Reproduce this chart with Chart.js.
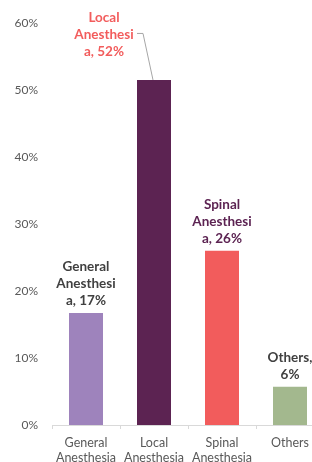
<!DOCTYPE html>
<html>
<head>
<meta charset="utf-8">
<script src="https://cdn.jsdelivr.net/npm/chart.js@4/dist/chart.umd.min.js"></script>
<style>
html,body{margin:0;padding:0;background:#fff;overflow:hidden;width:312px;height:462px;}
#wrap{position:absolute;left:0;top:0;width:324px;height:462px;}
</style>
</head>
<body>
<div id="wrap"><canvas id="c" width="324" height="462"></canvas></div>
<script>
const categories = [["General","Anesthesia"],["Local","Anesthesia"],["Spinal","Anesthesia"],["Others"]];
const values = [16.7, 51.5, 26.0, 5.7];
const labelNames = [["General","Anesthesi","a"],["Local","Anesthesi","a"],["Spinal","Anesthesi","a"],["Others"]];
const barColors = ["#9E83BC","#5C2352","#F25C5C","#A3B88E"];
const labelColors = ["#404040","#F25C5C","#5C2352","#404040"];
const yTicks = [0,10,20,30,40,50,60];

const FONT = "Lato, 'Open Sans', sans-serif";

function labelLines(i){
  const n = labelNames[i];
  const pct = Math.round(values[i]) + "%";
  if (n.length === 1) return [n[0] + ",", pct];
  const lines = n.slice(0, n.length - 1);
  lines.push(n[n.length - 1] + ", " + pct);
  return lines;
}

const labelPlugin = {
  id: 'barLabels',
  afterDatasetsDraw(chart){
    const ctx = chart.ctx;
    const meta = chart.getDatasetMeta(0);
    ctx.save();
    ctx.font = "bold 13.5px " + FONT;
    ctx.textAlign = "center";
    ctx.textBaseline = "middle";
    const lh = 17;
    meta.data.forEach((bar, i) => {
      const lines = labelLines(i);
      let cx = bar.x, lastY = bar.y - 12.5;
      if (i === 1) {
        cx = bar.x - 50;
        lastY = bar.y - 28;
        ctx.strokeStyle = "#A6A6A6";
        ctx.lineWidth = 1;
        ctx.beginPath();
        ctx.moveTo(bar.x - 17, bar.y - 46.5);
        ctx.lineTo(bar.x - 11, bar.y - 46.5);
        ctx.lineTo(bar.x - 1, bar.y);
        ctx.stroke();
      }
      ctx.fillStyle = labelColors[i];
      lines.forEach((t, k) => {
        ctx.fillText(t, cx, lastY - (lines.length - 1 - k) * lh);
      });
    });
    ctx.restore();
  }
};

new Chart(document.getElementById('c'), {
  type: 'bar',
  data: {
    labels: categories,
    datasets: [{
      data: values,
      backgroundColor: barColors,
      borderWidth: 0,
      categoryPercentage: 1.0,
      barPercentage: 0.5
    }]
  },
  options: {
    responsive: false,
    animation: false,
    devicePixelRatio: 1,
    layout: { padding: { top: 23, right: 0, left: 0, bottom: 0 } },
    plugins: { legend: { display: false }, tooltip: { enabled: false } },
    scales: {
      x: {
        offset: true,
        grid: { display: true, offset: true, drawOnChartArea: false, drawTicks: true, tickLength: 4, color: "#D9D9D9" },
        border: { display: true, color: "#D9D9D9", width: 1 },
        ticks: { color: "#595959", font: { family: FONT, size: 12.5, lineHeight: 1.2 }, padding: 6, maxRotation: 0, autoSkip: false },
        afterFit(s){ s.height = 37; }
      },
      y: {
        min: 0, max: 60,
        grid: { display: false, drawTicks: false },
        border: { display: false },
        afterBuildTicks(s){ s.ticks = yTicks.map(v => ({ value: v })); },
        ticks: { color: "#595959", font: { family: FONT, size: 12 }, padding: 14, callback: v => v + "%" },
        afterFit(s){ s.width = 52; }
      }
    }
  },
  plugins: [labelPlugin]
});
</script>
</body>
</html>
